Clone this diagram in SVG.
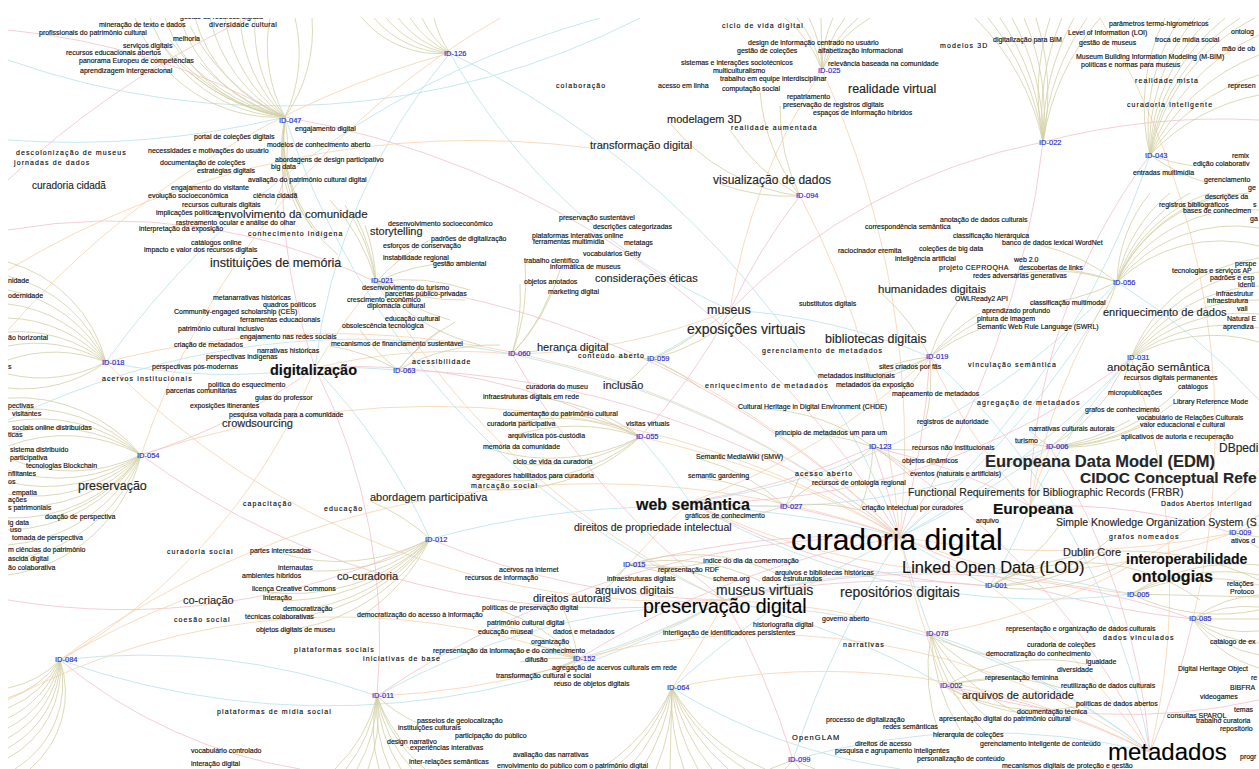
<svg xmlns="http://www.w3.org/2000/svg" width="1259" height="769" viewBox="0 0 1259 769">
<style>
.e{fill:none;stroke-width:.8}
.o{stroke:#d3d0a6}
.p{stroke:#f2c1cc}
.c{stroke:#b9e2ea}
.r{stroke:#f6d3ae}
text{font-family:"Liberation Sans",Arial,sans-serif;font-size:7px;fill:#111;stroke:#111;stroke-width:.15px}
.w{letter-spacing:1.1px}
.i{fill:#2a2ad0;stroke:#2a2ad0;font-size:7.5px}
.m{fill:#262626;stroke:#262626}
.b{font-weight:bold}
.z10{font-size:10px}.z105{font-size:10.5px}.z11{font-size:11px}.z115{font-size:11.5px}.z12{font-size:12px}.z125{font-size:12.5px}.z14{font-size:14px}.z145{font-size:14.5px}.z155{font-size:15.5px}.z16{font-size:16px}.z165{font-size:16.5px}.z195{font-size:19.5px}.z24{font-size:24px}.z30{font-size:30px}
</style>
<defs><clipPath id="cp"><rect x="8" y="18" width="1251" height="751"/></clipPath></defs>
<rect width="1259" height="769" fill="#fff"/>
<g id="connectors" clip-path="url(#cp)">
<path class="e p" d="M285 117A900 900 0 0 1 900 537M1043 142A900 900 0 0 1 900 537M376 282A900 900 0 0 1 900 537M398 370A900 900 0 0 1 900 537M930 357A900 900 0 0 1 900 537M873 447A900 900 0 0 1 900 537M785 506A900 900 0 0 1 900 537M628 565A900 900 0 0 1 900 537M1193 619A900 900 0 0 1 900 537M578 659A900 900 0 0 1 900 537M377 696A900 900 0 0 1 900 537"/>
<path class="e c" d="M450 53A900 900 0 0 1 900 537M1150 155A900 900 0 0 1 900 537M1117 282A900 900 0 0 1 900 537M512 354A900 900 0 0 1 900 537M1131 358A900 900 0 0 1 900 537M1050 447A900 900 0 0 1 900 537M430 539A900 900 0 0 1 900 537M990 586A900 900 0 0 1 900 537M931 634A900 900 0 0 1 900 537M672 688A900 900 0 0 1 900 537M793 760A900 900 0 0 1 900 537"/>
<path class="e r" d="M822 70A900 900 0 0 1 900 537M800 196A900 900 0 0 1 900 537M106 362A900 900 0 0 1 900 537M651 359A900 900 0 0 1 900 537M640 437A900 900 0 0 1 900 537M141 455A900 900 0 0 1 900 537M1233 533A900 900 0 0 1 900 537M1131 594A900 900 0 0 1 900 537M60 660A900 900 0 0 1 900 537M945 686A900 900 0 0 1 900 537"/>
<path class="e p" d="M141 455A800 800 0 0 0 725 600M430 539A800 800 0 0 0 725 600M793 760A800 800 0 0 0 725 600M990 586A800 800 0 0 0 725 600M512 354A800 800 0 0 0 725 600M1193 619A800 800 0 0 0 725 600"/>
<path class="e c" d="M60 660A800 800 0 0 0 725 600M578 659A800 800 0 0 0 725 600M945 686A800 800 0 0 0 725 600M1131 594A800 800 0 0 0 725 600M285 117A800 800 0 0 0 725 600"/>
<path class="e r" d="M377 696A800 800 0 0 0 725 600M672 688A800 800 0 0 0 725 600M931 634A800 800 0 0 0 725 600M106 362A800 800 0 0 0 725 600M376 282A800 800 0 0 0 725 600"/>
<path class="e p" d="M945 686A700 700 0 0 1 1150 752M1193 619A700 700 0 0 1 1150 752M873 447A700 700 0 0 1 1150 752M1050 447A700 700 0 0 1 1150 752"/>
<path class="e c" d="M931 634A700 700 0 0 1 1150 752M793 760A700 700 0 0 1 1150 752M930 357A700 700 0 0 1 1150 752M377 696A700 700 0 0 1 1150 752"/>
<path class="e r" d="M990 586A700 700 0 0 1 1150 752M672 688A700 700 0 0 1 1150 752M1131 358A700 700 0 0 1 1150 752M578 659A700 700 0 0 1 1150 752"/>
<path class="e c" d="M106 362A600 600 0 0 0 315 368M398 370A600 600 0 0 0 315 368M430 539A600 600 0 0 0 315 368M450 53A600 600 0 0 0 315 368"/>
<path class="e p" d="M141 455A600 600 0 0 0 315 368M285 117A600 600 0 0 0 315 368M377 696A600 600 0 0 0 315 368M640 437A600 600 0 0 0 315 368"/>
<path class="e r" d="M376 282A600 600 0 0 0 315 368M512 354A600 600 0 0 0 315 368M60 660A600 600 0 0 0 315 368"/>
<path class="e r" d="M785 506A700 700 0 0 1 690 502M930 357A700 700 0 0 1 690 502M1233 533A700 700 0 0 1 690 502M628 565A700 700 0 0 1 690 502"/>
<path class="e c" d="M1050 447A700 700 0 0 1 690 502M1117 282A700 700 0 0 1 690 502M1131 594A700 700 0 0 1 690 502M640 437A700 700 0 0 1 690 502"/>
<path class="e p" d="M873 447A700 700 0 0 1 690 502M1131 358A700 700 0 0 1 690 502M990 586A700 700 0 0 1 690 502"/>
<path class="e p" d="M800 196A600 600 0 0 0 730 310M640 437A600 600 0 0 0 730 310M1043 142A600 600 0 0 0 730 310M873 447A600 600 0 0 1 1030 506M1150 155A600 600 0 0 0 1030 506M1233 533A600 600 0 0 0 1030 506"/>
<path class="e c" d="M651 359A600 600 0 0 0 730 310M930 357A600 600 0 0 0 730 310M450 53A600 600 0 0 0 730 310M990 586A600 600 0 0 0 1030 506M1131 358A600 600 0 0 0 1030 506"/>
<path class="e r" d="M512 354A600 600 0 0 0 730 310M822 70A600 600 0 0 0 730 310M1050 447A600 600 0 0 0 1030 506M930 357A600 600 0 0 0 1030 506M1117 282A600 600 0 0 0 1030 506"/>
<path class="e p" d="M8 30A700 700 0 0 1 285 117M8 230A600 600 0 0 1 376 282M8 600A700 700 0 0 0 430 539M1259 120A700 700 0 0 0 1043 142M1259 700A600 600 0 0 1 945 686M300 769A500 500 0 0 1 60 660M8 180A900 900 0 0 1 1000 18"/>
<path class="e c" d="M8 140A900 900 0 0 0 285 117M8 420A800 800 0 0 1 512 354M600 18A900 900 0 0 0 106 362M1259 400A700 700 0 0 0 1117 282M900 769A600 600 0 0 1 672 688M60 660A700 700 0 0 1 377 696M8 60A800 800 0 0 0 640 18"/>
<path class="e r" d="M8 330A900 900 0 0 1 450 53M1259 470A600 600 0 0 1 931 634M500 18A800 800 0 0 0 141 455M8 700A700 700 0 0 1 578 659M1100 18A800 800 0 0 1 1193 619M60 660A800 800 0 0 1 183 600M8 270A900 900 0 0 1 590 148"/>
<path class="e o" d="M285 117A150 150 0 0 1 135 18M285 117A150 150 0 0 1 150 18M285 117A150 150 0 0 1 165 18M285 117A150 150 0 0 1 180 18M285 117A150 150 0 0 1 195 18M285 117A150 150 0 0 1 210 18M285 117A150 150 0 0 1 225 18M285 117A150 150 0 0 1 240 18M285 117A150 150 0 0 1 255 18M285 117A150 150 0 0 1 270 18M285 117A150 150 0 0 0 295 18M285 117A150 150 0 0 0 312 18M285 117A200 200 0 0 1 190 26M285 117A200 200 0 0 1 170 40M285 117A200 200 0 0 1 165 48M285 117A200 200 0 0 1 175 55M285 117A200 200 0 0 1 200 63M285 117A200 200 0 0 1 190 73M285 117A150 150 0 0 0 290 200M285 117A150 150 0 0 0 300 215M285 117A150 150 0 0 0 312 228M285 117A150 150 0 0 0 325 240M285 117A150 150 0 0 0 338 255M285 117A150 150 0 0 1 275 205"/>
<path class="e o" d="M450 53A100 100 0 0 1 362 18M450 53A100 100 0 0 1 374 18M450 53A100 100 0 0 1 386 18M450 53A100 100 0 0 1 398 18M450 53A100 100 0 0 1 410 18M450 53A100 100 0 0 1 422 18M450 53A100 100 0 0 1 434 18"/>
<path class="e o" d="M822 70A120 120 0 0 0 785 18M822 70A120 120 0 0 0 797 18M822 70A120 120 0 0 0 809 18M822 70L821 18M822 70A120 120 0 0 1 833 18M822 70A120 120 0 0 1 845 18M822 70A120 120 0 0 1 858 18M822 70A120 120 0 0 1 870 18"/>
<path class="e o" d="M1043 142A250 250 0 0 0 975 18M1043 142A250 250 0 0 0 988 18M1043 142A250 250 0 0 0 1000 18M1043 142A250 250 0 0 0 1012 18M1043 142A250 250 0 0 0 1024 18M1043 142A250 250 0 0 0 1036 18M1043 142A250 250 0 0 1 1050 18M1043 142A250 250 0 0 1 1062 18M1043 142A250 250 0 0 1 1074 18M1043 142A250 250 0 0 1 1087 18M1043 142A250 250 0 0 1 1100 18"/>
<path class="e o" d="M1150 155A200 200 0 0 1 1165 18M1150 155A200 200 0 0 1 1180 18M1150 155A200 200 0 0 1 1195 18M1150 155A200 200 0 0 1 1210 18M1150 155A200 200 0 0 1 1225 18M1150 155A200 200 0 0 1 1240 18M1150 155A200 200 0 0 1 1255 18M1150 155A200 200 0 0 1 1259 35M1150 155A200 200 0 0 1 1259 55M1150 155A200 200 0 0 1 1259 75M1150 155A200 200 0 0 1 1259 95M1150 155A200 200 0 0 0 1193 166M1150 155A200 200 0 0 0 1204 182"/>
<path class="e o" d="M1117 282A150 150 0 0 1 1150 193M1117 282A150 150 0 0 1 1170 193M1117 282A150 150 0 0 1 1190 193M1117 282A150 150 0 0 1 1210 193M1117 282A150 150 0 0 1 1230 193M1117 282A150 150 0 0 1 1250 193M1117 282A150 150 0 0 1 1259 210M1117 282A150 150 0 0 1 1259 228M1117 282A150 150 0 0 1 1259 246M1117 282A200 200 0 0 0 1020 270M1117 282A200 200 0 0 0 1000 278M1117 282A200 200 0 0 1 1030 304M1117 282A200 200 0 0 1 1103 316M1117 282A200 200 0 0 0 1040 245"/>
<path class="e o" d="M1131 358A160 160 0 0 1 1259 258M1131 358A160 160 0 0 1 1259 272M1131 358A160 160 0 0 1 1259 286M1131 358A160 160 0 0 1 1259 300M1131 358A160 160 0 0 1 1259 314M1131 358A160 160 0 0 1 1259 328M1131 358A160 160 0 0 1 1259 342M1131 358A160 160 0 0 0 1124 380M1131 358A160 160 0 0 0 1108 395"/>
<path class="e o" d="M106 362A140 140 0 0 0 8 262M106 362A140 140 0 0 0 8 276M106 362A140 140 0 0 0 8 290M106 362A140 140 0 0 0 8 304M106 362A140 140 0 0 0 8 318M106 362A140 140 0 0 0 8 332M106 362A140 140 0 0 0 8 346M106 362A140 140 0 0 0 8 360M106 362A140 140 0 0 1 8 374M106 362A140 140 0 0 1 8 388"/>
<path class="e o" d="M141 455A160 160 0 0 0 8 398M141 455A160 160 0 0 0 8 410M141 455A160 160 0 0 0 8 422M141 455A160 160 0 0 0 8 434M141 455A160 160 0 0 0 8 446M141 455A160 160 0 0 1 8 458M141 455A160 160 0 0 1 8 470M141 455A160 160 0 0 1 8 482M141 455A160 160 0 0 1 8 494M141 455A160 160 0 0 1 8 506M141 455A160 160 0 0 1 8 518M141 455A160 160 0 0 1 8 530M141 455A160 160 0 0 1 8 545M141 455A160 160 0 0 1 8 560M141 455A160 160 0 0 1 8 575M141 455A160 160 0 0 1 45 519"/>
<path class="e o" d="M60 660A100 100 0 0 1 8 688M60 660A100 100 0 0 1 8 698M60 660A100 100 0 0 1 8 708M60 660A100 100 0 0 1 8 718M60 660A100 100 0 0 1 8 728M60 660A100 100 0 0 1 8 738M60 660A100 100 0 0 1 8 748M60 660A100 100 0 0 1 8 758M60 660A100 100 0 0 1 15 769M60 660A100 100 0 0 1 30 769"/>
<path class="e o" d="M377 696A150 150 0 0 1 335 769M377 696A150 150 0 0 1 346 769M377 696A150 150 0 0 1 357 769M377 696A150 150 0 0 1 368 769M377 696A150 150 0 0 0 379 769M377 696A150 150 0 0 0 390 769M377 696A150 150 0 0 0 401 769M377 696A150 150 0 0 0 412 769M377 696A150 150 0 0 0 425 769M377 696A150 150 0 0 0 417 723M377 696A150 150 0 0 0 410 750"/>
<path class="e o" d="M672 688A200 200 0 0 1 600 769M672 688A200 200 0 0 1 614 769M672 688A200 200 0 0 1 628 769M672 688A200 200 0 0 1 642 769M672 688A200 200 0 0 1 656 769M672 688L670 769M672 688A200 200 0 0 0 684 769M672 688A200 200 0 0 0 698 769M672 688A200 200 0 0 0 712 769M672 688A200 200 0 0 0 728 769M672 688A200 200 0 0 0 745 769M672 688A200 200 0 0 0 765 769M793 760L770 769M793 760L785 769M793 760L800 769M793 760L815 769"/>
<path class="e o" d="M1193 619A120 120 0 0 1 1259 595M1193 619A120 120 0 0 1 1259 607M1193 619L1259 619M1193 619A120 120 0 0 0 1259 631M1193 619A120 120 0 0 0 1259 643M1193 619A120 120 0 0 0 1259 655M1193 619A120 120 0 0 0 1259 668M1131 594A200 200 0 0 1 1259 565M1131 594A200 200 0 0 1 1259 575M1131 594A200 200 0 0 1 1259 585M1131 594L1259 597M1131 594A200 200 0 0 0 1259 610M1233 533L1259 515M1233 533L1259 525M1233 533L1259 537M1233 533L1259 548"/>
<path class="e o" d="M376 282A200 200 0 0 0 330 200M376 282A200 200 0 0 0 345 205M376 282A200 200 0 0 0 355 215M376 282A200 200 0 0 0 365 225M376 282A200 200 0 0 1 430 240M376 282A200 200 0 0 1 460 262M376 282A200 200 0 0 1 470 290M376 282A200 200 0 0 0 465 300M376 282A200 200 0 0 0 450 320M376 282A200 200 0 0 0 480 345M398 370A200 200 0 0 1 440 330M398 370A200 200 0 0 1 455 322M398 370A200 200 0 0 1 500 345M398 370A200 200 0 0 0 330 346M398 370A200 200 0 0 1 360 330"/>
<path class="e o" d="M640 437A200 200 0 0 0 500 426M640 437A200 200 0 0 0 510 437M640 437A200 200 0 0 1 490 449M640 437A200 200 0 0 1 520 464M640 437A200 200 0 0 1 480 478M640 437A200 200 0 0 1 475 488M640 437A200 200 0 0 0 505 416M640 437A200 200 0 0 0 490 399M640 437A200 200 0 0 0 626 426"/>
<path class="e o" d="M930 357A200 200 0 0 0 880 369M930 357A200 200 0 0 1 835 378M930 357A200 200 0 0 1 840 387M930 357A200 200 0 0 1 900 396M930 357A200 200 0 0 1 925 424M930 357A200 200 0 0 0 880 292M930 357A200 200 0 0 1 960 298M930 357A200 200 0 0 1 980 313M930 357A200 200 0 0 1 980 321M930 357A200 200 0 0 1 980 329"/>
<path class="e o" d="M1050 447A200 200 0 0 0 1015 443M1050 447A200 200 0 0 1 1030 431M1050 447A200 200 0 0 0 1130 420M1050 447A200 200 0 0 0 1140 427M1050 447A200 200 0 0 0 1120 439M1050 447A200 200 0 0 0 1085 412M1050 447A200 200 0 0 0 1108 395M1050 447A200 200 0 0 0 1180 389M1050 447A200 200 0 0 0 1173 404"/>
<path class="e o" d="M931 634A200 200 0 0 0 990 656M931 634A200 200 0 0 0 1000 680M931 634A200 200 0 0 0 1020 714M931 634A200 200 0 0 0 990 720M931 634A200 200 0 0 0 960 730M931 634A200 200 0 0 0 1000 746M931 634A200 200 0 0 0 940 737M945 686A200 200 0 0 0 960 699M945 686A200 200 0 0 0 1030 714M945 686A200 200 0 0 0 1080 706M945 686A200 200 0 0 1 1061 688M945 686A200 200 0 0 1 985 680M945 686A200 200 0 0 1 1086 664"/>
<path class="e o" d="M990 586A200 200 0 0 0 1100 555M990 586A200 200 0 0 0 1130 560M990 586A200 200 0 0 0 1110 539M990 586A200 200 0 0 0 1060 525M990 586A200 200 0 0 1 1200 600M990 586A300 300 0 0 1 1259 580"/>
<path class="e o" d="M578 659A200 200 0 0 0 520 662M578 659A200 200 0 0 1 500 678M578 659A200 200 0 0 1 556 670M578 659A200 200 0 0 1 555 686M578 659A200 200 0 0 0 490 653M578 659A200 200 0 0 0 530 644M578 659A200 200 0 0 0 560 634M578 659A200 200 0 0 0 500 625M578 659A200 200 0 0 0 500 610M578 659A200 200 0 0 0 560 602M628 565A200 200 0 0 1 610 581M628 565A200 200 0 0 1 600 594M628 565A200 200 0 0 1 660 572M628 565A200 200 0 0 0 705 563M628 565A200 200 0 0 1 720 582M628 565A200 200 0 0 1 760 581M628 565A200 200 0 0 1 780 575"/>
<path class="e o" d="M430 539A200 200 0 0 0 370 501M430 539A200 200 0 0 1 340 580M430 539A200 200 0 0 1 300 570M430 539A200 200 0 0 1 280 553M430 539A200 200 0 0 1 260 591M430 539A200 200 0 0 1 270 600M430 539A200 200 0 0 1 290 611M430 539A200 200 0 0 1 260 619M430 539A200 200 0 0 1 270 632M430 539A200 200 0 0 1 360 617"/>
<path class="e o" d="M512 354A200 200 0 0 1 537 351M512 354A200 200 0 0 0 520 284M512 354A200 200 0 0 0 550 294M512 354A200 200 0 0 0 525 263M512 354A200 200 0 0 0 560 270M651 359A200 200 0 0 0 600 358M651 359A200 200 0 0 1 620 389M651 359A200 200 0 0 1 700 388M651 359A200 200 0 0 0 700 331M651 359A200 200 0 0 0 740 312M800 196A200 200 0 0 1 720 184M800 196A200 200 0 0 1 730 130M800 196A200 200 0 0 1 670 123M800 196A200 200 0 0 1 780 106M800 196A200 200 0 0 1 760 91"/>
<path class="e o" d="M873 447A200 200 0 0 0 912 450M873 447A200 200 0 0 1 902 463M873 447A200 200 0 0 1 910 476M873 447A200 200 0 0 1 860 510M873 447A200 200 0 0 1 812 485M873 447A200 200 0 0 0 780 435M873 447A200 200 0 0 0 760 409M785 506A200 200 0 0 1 700 518M785 506A200 200 0 0 0 700 478M785 506A200 200 0 0 0 700 459M785 506A200 200 0 0 0 800 476M785 506A200 200 0 0 1 812 485M785 506A200 200 0 0 1 860 510"/>
</g>
<g id="nodes" clip-path="url(#cp)">
<g id="k1"><text x="180" y="19">gestão de recursos digitais</text></g>
<g id="k2"><text x="99" y="26.5">mineração de texto e dados</text></g>
<g id="k3"><text x="209" y="26.5" style="letter-spacing:.4px">diversidade cultural</text></g>
<g id="k4"><text x="39" y="35">profissionais do patrimônio cultural</text></g>
<g id="k5"><text x="173" y="40.5">melhoria</text></g>
<g id="k6"><text x="123" y="48">serviços digitais</text></g>
<g id="k7"><text x="66" y="55">recursos educacionais abertos</text></g>
<g id="k8"><text x="79" y="63">panorama Europeu de competências</text></g>
<g id="k9"><text x="80" y="73">aprendizagem intergeracional</text></g>
<g id="id047"><text class="i" x="279" y="122.5">ID-047</text></g>
<g id="k11"><text x="295" y="130.5">engajamento digital</text></g>
<g id="k12"><text x="194" y="139">portal de coleções digitais</text></g>
<g id="k13"><text x="267" y="146.5">modelos de conhecimento aberto</text></g>
<g id="k14"><text class="w" x="16" y="155">descolonização de museus</text></g>
<g id="k15"><text x="148" y="153">necessidades e motivações do usuário</text></g>
<g id="k16"><text x="275" y="162">abordagens de design participativo</text></g>
<g id="k17"><text class="w" x="14" y="165">jornadas de dados</text></g>
<g id="k18"><text x="160" y="165">documentação de coleções</text></g>
<g id="k19"><text x="271" y="169">big data</text></g>
<g id="k20"><text x="197" y="173">estratégias digitais</text></g>
<g id="k21"><text x="248" y="182">avaliação do patrimônio cultural digital</text></g>
<g id="k22"><text class="z10 m" x="32" y="189">curadoria cidadã</text></g>
<g id="k23"><text x="171" y="190">engajamento do visitante</text></g>
<g id="k24"><text x="148" y="198">evolução socioeconômica</text></g>
<g id="k25"><text x="253" y="198">ciência cidadã</text></g>
<g id="k26"><text x="182" y="207">recursos culturais digitais</text></g>
<g id="k27"><text x="156" y="215">implicações políticas</text></g>
<g id="k28"><text class="z115 m" x="218" y="217.5">envolvimento da comunidade</text></g>
<g id="k29"><text x="176" y="224.5">rastreamento ocular e análise do olhar</text></g>
<g id="k30"><text x="388" y="226">desenvolvimento socioeconômico</text></g>
<g id="k31"><text x="139" y="230.5">interpretação da exposição</text></g>
<g id="k32"><text class="w" x="248" y="235.5">conhecimento indígena</text></g>
<g id="k33"><text class="z11 m" x="370" y="235">storytelling</text></g>
<g id="k34"><text x="431" y="241">padrões de digitalização</text></g>
<g id="k35"><text x="191" y="244.5">catálogos online</text></g>
<g id="k36"><text x="383" y="248">esforços de conservação</text></g>
<g id="k37"><text x="144" y="251.5">impacto e valor dos recursos digitais</text></g>
<g id="k38"><text x="383" y="260">instabilidade regional</text></g>
<g id="k39"><text class="z125 m" x="210" y="267">instituições de memória</text></g>
<g id="k40"><text x="433" y="266">gestão ambiental</text></g>
<g id="k41"><text x="8" y="283">nidade</text></g>
<g id="id021"><text class="i" x="371" y="283">ID-021</text></g>
<g id="k43"><text x="362" y="290">desenvolvimento do turismo</text></g>
<g id="k44"><text x="385" y="296">parcerias público-privadas</text></g>
<g id="k45"><text x="8" y="298">odernidade</text></g>
<g id="k46"><text x="213" y="300">metanarrativas históricas</text></g>
<g id="k47"><text x="347" y="302">crescimento econômico</text></g>
<g id="k48"><text x="263" y="307">quadros políticos</text></g>
<g id="k49"><text x="367" y="308">diplomacia cultural</text></g>
<g id="k50"><text x="174" y="314">Community-engaged scholarship (CES)</text></g>
<g id="k51"><text x="240" y="321.5">ferramentas educacionais</text></g>
<g id="k52"><text x="385" y="321">educação cultural</text></g>
<g id="k53"><text x="342" y="328">obsolescência tecnológica</text></g>
<g id="k54"><text x="178" y="330.5">patrimônio cultural inclusivo</text></g>
<g id="k55"><text x="8" y="340">ão horizontal</text></g>
<g id="k56"><text x="240" y="338.5">engajamento nas redes sociais</text></g>
<g id="k57"><text x="174" y="346.5">criação de metadados</text></g>
<g id="k58"><text x="331" y="346">mecanismos de financiamento sustentável</text></g>
<g id="k59"><text x="257" y="353">narrativas históricas</text></g>
<g id="k60"><text x="206" y="359">perspectivas indígenas</text></g>
<g id="id018"><text class="i" x="102" y="364.5">ID-018</text></g>
<g id="k62"><text class="w" x="412" y="364">acessibilidade</text></g>
<g id="k63"><text x="8" y="369">s</text></g>
<g id="k64"><text x="152" y="368.5">perspectivas pós-modernas</text></g>
<g id="k65"><text class="z145 b" x="270" y="375">digitalização</text></g>
<g id="id063"><text class="i" x="393" y="373">ID-063</text></g>
<g id="k67"><text class="w" x="102" y="380.5">acervos institucionais</text></g>
<g id="k68"><text x="208" y="387">política do esquecimento</text></g>
<g id="k69"><text x="166" y="393">parcerias comunitárias</text></g>
<g id="k70"><text x="255" y="400">guias do professor</text></g>
<g id="k71"><text x="8" y="408">pectivas</text></g>
<g id="k72"><text x="190" y="408">exposições itinerantes</text></g>
<g id="k73"><text x="12" y="416">visitantes</text></g>
<g id="k74"><text x="229" y="417">pesquisa voltada para a comunidade</text></g>
<g id="k75"><text class="z11 m" x="222" y="427">crowdsourcing</text></g>
<g id="k76"><text x="12" y="430">sociais online distribuídas</text></g>
<g id="k77"><text x="8" y="437">ticas</text></g>
<g id="k78"><text x="10" y="452">sistema distribuído</text></g>
<g id="k79"><text x="10" y="459.5">participativa</text></g>
<g id="id054"><text class="i" x="137" y="457.5">ID-054</text></g>
<g id="k81"><text x="26" y="468">tecnologias Blockchain</text></g>
<g id="k82"><text x="8" y="476">nflitantes</text></g>
<g id="k83"><text x="8" y="484">os</text></g>
<g id="k84"><text class="z125 m" x="78" y="490">preservação</text></g>
<g id="k85"><text x="12" y="495">empatia</text></g>
<g id="k86"><text x="8" y="502">ações</text></g>
<g id="k87"><text x="8" y="510">s patrimoniais</text></g>
<g id="k88"><text x="45" y="519">doação de perspectiva</text></g>
<g id="k89"><text class="w" x="243" y="506">capacitação</text></g>
<g id="k90"><text class="w" x="324" y="511">educação</text></g>
<g id="k91"><text class="z11 m" x="370" y="501">abordagem participativa</text></g>
<g id="k92"><text x="8" y="525">ig data</text></g>
<g id="k93"><text x="10" y="532">uso</text></g>
<g id="k94"><text x="12" y="540">tomada de perspectiva</text></g>
<g id="k95"><text x="8" y="552">m ciências do patrimônio</text></g>
<g id="k96"><text x="8" y="561">ascida digital</text></g>
<g id="k97"><text x="8" y="570">ão colaborativa</text></g>
<g id="k98"><text class="w" x="167" y="554">curadoria social</text></g>
<g id="k99"><text x="250" y="553">partes interessadas</text></g>
<g id="k100"><text x="278" y="570">internautas</text></g>
<g id="k101"><text x="242" y="578">ambientes híbridos</text></g>
<g id="k102"><text class="z11 m" x="337" y="580">co-curadoria</text></g>
<g id="k103"><text x="252" y="591">licença Creative Commons</text></g>
<g id="k104"><text x="263" y="600">interação</text></g>
<g id="k105"><text class="z11 m" x="183" y="604">co-criação</text></g>
<g id="k106"><text x="283" y="611">democratização</text></g>
<g id="k107"><text x="245" y="619">técnicas colaborativas</text></g>
<g id="k108"><text class="w" x="174" y="622">coesão social</text></g>
<g id="k109"><text x="357" y="617">democratização do acesso à informação</text></g>
<g id="k110"><text x="256" y="632">objetos digitais de museu</text></g>
<g id="k111"><text class="w" x="294" y="652">plataformas sociais</text></g>
<g id="k112"><text class="w" x="363" y="661">iniciativas de base</text></g>
<g id="id084"><text class="i" x="55" y="662">ID-084</text></g>
<g id="id011"><text class="i" x="372" y="698">ID-011</text></g>
<g id="k115"><text class="w" x="217" y="714">plataformas de mídia social</text></g>
<g id="k116"><text x="191" y="753">vocabulário controlado</text></g>
<g id="k117"><text x="191" y="766">interação digital</text></g>
<g id="id126"><text class="i" x="444" y="56">ID-126</text></g>
<g id="k119"><text class="w" x="722" y="28">ciclo de vida digital</text></g>
<g id="k120"><text x="748" y="45">design de informação centrado no usuário</text></g>
<g id="k121"><text x="737" y="53">gestão de coleções</text></g>
<g id="k122"><text x="818" y="53">alfabetização informacional</text></g>
<g id="k123"><text x="681" y="65">sistemas e interações sociotécnicos</text></g>
<g id="k124"><text x="828" y="66">relevância baseada na comunidade</text></g>
<g id="k125"><text x="713" y="73">multiculturalismo</text></g>
<g id="id025"><text class="i" x="818" y="73">ID-025</text></g>
<g id="k127"><text x="720" y="81">trabalho em equipe interdisciplinar</text></g>
<g id="k128"><text class="w" x="556" y="88">colaboração</text></g>
<g id="k129"><text x="658" y="88">acesso em linha</text></g>
<g id="k130"><text x="722" y="91">computação social</text></g>
<g id="k131"><text class="z125 m" x="848" y="93">realidade virtual</text></g>
<g id="k132"><text x="787" y="99">repatriamento</text></g>
<g id="k133"><text x="783" y="107">preservação de registros digitais</text></g>
<g id="k134"><text x="813" y="115">espaços de informação híbridos</text></g>
<g id="k135"><text class="z11 m" x="667" y="123">modelagem 3D</text></g>
<g id="k136"><text class="w" x="731" y="130">realidade aumentada</text></g>
<g id="k137"><text class="z11 m" x="590" y="149">transformação digital</text></g>
<g id="k138"><text class="z12 m" x="713" y="184">visualização de dados</text></g>
<g id="id094"><text class="i" x="796" y="198">ID-094</text></g>
<g id="k140"><text x="1109" y="26">parâmetros termo-higrométricos</text></g>
<g id="k141"><text x="1231" y="34">ontolog</text></g>
<g id="k142"><text x="1068" y="35">Level of Information (LOI)</text></g>
<g id="k143"><text x="993" y="42">digitalização para BIM</text></g>
<g id="k144"><text x="1155" y="42">troca de mídia social</text></g>
<g id="k145"><text class="w" x="940" y="48">modelos 3D</text></g>
<g id="k146"><text x="1079" y="45">gestão de museus</text></g>
<g id="k147"><text x="1222" y="51">mão de ob</text></g>
<g id="k148"><text x="1076" y="59">Museum Building Information Modeling (M-BIM)</text></g>
<g id="k149"><text x="1081" y="67">políticas e normas para museus</text></g>
<g id="k150"><text class="w" x="1135" y="83">realidade mista</text></g>
<g id="k151"><text x="1228" y="88">represen</text></g>
<g id="k152"><text class="w" x="1127" y="107">curadoria inteligente</text></g>
<g id="id022"><text class="i" x="1039" y="145">ID-022</text></g>
<g id="id043"><text class="i" x="1145" y="158">ID-043</text></g>
<g id="k155"><text x="1232" y="158">remix</text></g>
<g id="k156"><text x="1193" y="166">edição colaborativ</text></g>
<g id="k157"><text x="1133" y="175">entradas multimídia</text></g>
<g id="k158"><text x="1204" y="182">gerenciamento</text></g>
<g id="k159"><text x="1248" y="190">ge</text></g>
<g id="k160"><text x="1205" y="199">descrições da</text></g>
<g id="k161"><text x="1159" y="207">registros bibliográficos</text></g>
<g id="k162"><text x="1253" y="207">s</text></g>
<g id="k163"><text x="1183" y="213">bases de conhecimen</text></g>
<g id="k164"><text x="1250" y="221">ga</text></g>
<g id="k165"><text x="559" y="220">preservação sustentável</text></g>
<g id="k166"><text x="593" y="229">descrições categorizadas</text></g>
<g id="k167"><text x="532" y="237.5">plataformas interativas online</text></g>
<g id="k168"><text x="533" y="244">ferramentas multimídia</text></g>
<g id="k169"><text x="624" y="245">metatags</text></g>
<g id="k170"><text x="583" y="256">vocabulários Getty</text></g>
<g id="k171"><text x="524" y="263">trabalho científico</text></g>
<g id="k172"><text x="550" y="269">informática de museus</text></g>
<g id="k173"><text class="z11 m" x="595" y="282">considerações éticas</text></g>
<g id="k174"><text x="524" y="284">objetos anotados</text></g>
<g id="k175"><text x="548" y="294">marketing digital</text></g>
<g id="k176"><text class="z125 m" x="707" y="314">museus</text></g>
<g id="k177"><text x="799" y="306">substitutos digitais</text></g>
<g id="k178"><text class="z14 m" x="687" y="334">exposições virtuais</text></g>
<g id="k179"><text class="z125 m" x="825" y="343">bibliotecas digitais</text></g>
<g id="k180"><text class="z11 m" x="537" y="351">herança digital</text></g>
<g id="k181"><text class="w" x="762" y="353">gerenciamento de metadados</text></g>
<g id="id060"><text class="i" x="508" y="356">ID-060</text></g>
<g id="k183"><text class="w" x="578" y="358">conteúdo aberto</text></g>
<g id="id059"><text class="i" x="647" y="361">ID-059</text></g>
<g id="k185"><text x="940" y="222">anotação de dados culturais</text></g>
<g id="k186"><text x="865" y="229">correspondência semântica</text></g>
<g id="k187"><text x="953" y="238">classificação hierárquica</text></g>
<g id="k188"><text x="1002" y="245">banco de dados lexical WordNet</text></g>
<g id="k189"><text x="919" y="251">coleções de big data</text></g>
<g id="k190"><text x="838" y="253">raciocinador eremita</text></g>
<g id="k191"><text x="895" y="261">inteligência artificial</text></g>
<g id="k192"><text x="1014" y="262">web 2.0</text></g>
<g id="k193"><text x="1235" y="266">perspe</text></g>
<g id="k194"><text x="939" y="270" style="letter-spacing:.4px">projeto CEPROQHA</text></g>
<g id="k195"><text x="1019" y="270">descobertas de links</text></g>
<g id="k196"><text x="1172" y="273">tecnologias e serviços AP</text></g>
<g id="k197"><text x="973" y="278">redes adversárias generativas</text></g>
<g id="k198"><text x="1210" y="280">padrões e esp</text></g>
<g id="id056"><text class="i" x="1113" y="285">ID-056</text></g>
<g id="k200"><text x="1238" y="287">identi</text></g>
<g id="k201"><text class="z115 m" x="878" y="293">humanidades digitais</text></g>
<g id="k202"><text x="1216" y="296">infraestrutur</text></g>
<g id="k203"><text x="955" y="300.5">OWLReady2 API</text></g>
<g id="k204"><text x="1207" y="303">infraestrutura</text></g>
<g id="k205"><text x="1030" y="305">classificação multimodal</text></g>
<g id="k206"><text x="1237" y="311">vali</text></g>
<g id="k207"><text x="982" y="313">aprendizado profundo</text></g>
<g id="k208"><text class="z11 m" x="1103" y="315.5">enriquecimento de dados</text></g>
<g id="k209"><text x="1227" y="321">Natural E</text></g>
<g id="k210"><text x="977" y="321">pintura de imagem</text></g>
<g id="k211"><text x="1223" y="328.5">aprendiza</text></g>
<g id="k212"><text x="977" y="329">Semantic Web Rule Language (SWRL)</text></g>
<g id="id019"><text class="i" x="926" y="359">ID-019</text></g>
<g id="id031"><text class="i" x="1127" y="360">ID-031</text></g>
<g id="k215"><text class="w" x="968" y="367">vinculação semântica</text></g>
<g id="k216"><text x="879" y="369">sites criados por fãs</text></g>
<g id="k217"><text class="z115 m" x="1107" y="371">anotação semântica</text></g>
<g id="k218"><text x="818" y="378">metadados institucionais</text></g>
<g id="k219"><text x="1124" y="380">recursos digitais permanentes</text></g>
<g id="k220"><text x="526" y="389">curadoria do museu</text></g>
<g id="k221"><text class="z11 m" x="603" y="389">inclusão</text></g>
<g id="k222"><text class="w" x="705" y="388">enriquecimento de metadados</text></g>
<g id="k223"><text x="836" y="387">metadados da exposição</text></g>
<g id="k224"><text x="1178" y="389">catálogos</text></g>
<g id="k225"><text x="892" y="396">mapeamento de metadados</text></g>
<g id="k226"><text x="1108" y="395">micropublicações</text></g>
<g id="k227"><text x="483" y="399">infraestruturas digitais em rede</text></g>
<g id="k228"><text class="w" x="977" y="405">agregação de metadados</text></g>
<g id="k229"><text x="1173" y="404">Library Reference Mode</text></g>
<g id="k230"><text x="738" y="409">Cultural Heritage in Digital Environment (CHDE)</text></g>
<g id="k231"><text x="1085" y="412">grafos de conhecimento</text></g>
<g id="k232"><text x="503" y="416">documentação do patrimônio cultural</text></g>
<g id="k233"><text x="1137" y="420">vocabulário de Relações Culturais</text></g>
<g id="k234"><text x="917" y="424">registros de autoridade</text></g>
<g id="k235"><text x="626" y="426">visitas virtuais</text></g>
<g id="k236"><text x="487" y="426">curadoria participativa</text></g>
<g id="k237"><text x="1140" y="427">valor educacional e cultural</text></g>
<g id="k238"><text x="1029" y="431">narrativas culturais autorais</text></g>
<g id="k239"><text x="775" y="435">princípio de metadados um para um</text></g>
<g id="k240"><text x="508" y="438">arquivística pós-custódia</text></g>
<g id="id055"><text class="i" x="636" y="439">ID-055</text></g>
<g id="k242"><text x="1121" y="439">aplicativos de autoria e recuperação</text></g>
<g id="k243"><text x="1015" y="443">turismo</text></g>
<g id="k244"><text x="483" y="449">memória da comunidade</text></g>
<g id="id123"><text class="i" x="869" y="449">ID-123</text></g>
<g id="k246"><text x="912" y="450">recursos não institucionais</text></g>
<g id="id006"><text class="i" x="1046" y="449">ID-006</text></g>
<g id="k248"><text class="z12 m" x="1219" y="452">DBpedi</text></g>
<g id="k249"><text x="696" y="459">Semantic MediaWiki (SMW)</text></g>
<g id="k250"><text x="902" y="463">objetos dinâmicos</text></g>
<g id="k251"><text x="513" y="464">ciclo de vida da curadoria</text></g>
<g id="k252"><text class="z165 b m" x="985" y="467">Europeana Data Model (EDM)</text></g>
<g id="k253"><text class="w" x="795" y="476">acesso aberto</text></g>
<g id="k254"><text x="910" y="476">eventos (naturais e artificiais)</text></g>
<g id="k255"><text x="688" y="478">semantic gardening</text></g>
<g id="k256"><text x="472" y="478">agregadores habilitados para curadoria</text></g>
<g id="k257"><text class="z155 b m" x="1080" y="483">CIDOC Conceptual Refe</text></g>
<g id="k258"><text x="812" y="485">recursos de ontologia regional</text></g>
<g id="k259"><text class="w" x="471" y="488">marcação social</text></g>
<g id="k260"><text class="z105 m" x="908" y="496">Functional Requirements for Bibliographic Records (FRBR)</text></g>
<g id="k261"><text class="z16 b" x="636" y="510">web semântica</text></g>
<g id="id027"><text class="i" x="780" y="509">ID-027</text></g>
<g id="k263"><text x="1161" y="506" style="letter-spacing:.6px">Dados Abertos Interligad</text></g>
<g id="k264"><text x="862" y="510">criação intelectual por curadores</text></g>
<g id="k265"><text class="z155 b" x="993" y="514">Europeana</text></g>
<g id="k266"><text x="685" y="518">gráficos de conhecimento</text></g>
<g id="k267"><text x="976" y="523">arquivo</text></g>
<g id="k268"><text class="z105 m" x="1056" y="526">Simple Knowledge Organization System (S</text></g>
<g id="k269"><text class="z105 m" x="574" y="531">direitos de propriedade intelectual</text></g>
<g id="id009"><text class="i" x="1229" y="535">ID-009</text></g>
<g id="id012"><text class="i" x="425" y="542">ID-012</text></g>
<g id="k272"><text class="w" x="1109" y="539">grafos nomeados</text></g>
<g id="k273"><text x="1231" y="543">ativos d</text></g>
<g id="k274"><text class="z30" x="791" y="550" style="fill:#000">curadoria digital</text></g>
<g id="k275"><text class="z11 m" x="1063" y="556">Dublin Core</text></g>
<g id="k276"><text x="703" y="563">índice do dia da comemoração</text></g>
<g id="k277"><text class="z14 b" x="1126" y="564">interoperabilidade</text></g>
<g id="id015"><text class="i" x="623" y="567">ID-015</text></g>
<g id="k279"><text x="499" y="572">acervos na internet</text></g>
<g id="k280"><text x="658" y="572">representação RDF</text></g>
<g id="k281"><text class="z165" x="902" y="573">Linked Open Data (LOD)</text></g>
<g id="k282"><text x="775" y="575">arquivos e bibliotecas históricas</text></g>
<g id="k283"><text x="465" y="580">recursos de informação</text></g>
<g id="k284"><text x="607" y="580.5">infraestruturas digitais</text></g>
<g id="k285"><text x="713" y="580.5">schema.org</text></g>
<g id="k286"><text x="762" y="580.5">dados estruturados</text></g>
<g id="k287"><text class="z16 b" x="1132" y="582">ontologias</text></g>
<g id="k288"><text x="1227" y="586">relações</text></g>
<g id="id001"><text class="i" x="985" y="588">ID-001</text></g>
<g id="k290"><text class="z11 m" x="595" y="594">arquivos digitais</text></g>
<g id="k291"><text class="z14 m" x="716" y="594.5">museus virtuais</text></g>
<g id="k292"><text class="z14 m" x="840" y="597">repositórios digitais</text></g>
<g id="k293"><text x="1230" y="594">Protoco</text></g>
<g id="id005"><text class="i" x="1127" y="597">ID-005</text></g>
<g id="k295"><text class="z11 m" x="533" y="602">direitos autorais</text></g>
<g id="k296"><text class="z195" x="643" y="613" style="fill:#000">preservação digital</text></g>
<g id="k297"><text x="482" y="610">políticas de preservação digital</text></g>
<g id="k298"><text x="822" y="621">governo aberto</text></g>
<g id="id085"><text class="i" x="1189" y="621">ID-085</text></g>
<g id="k300"><text x="487" y="625">patrimônio cultural digital</text></g>
<g id="k301"><text x="753" y="627">historiografia digital</text></g>
<g id="k302"><text x="1006" y="631">representação e organização de dados culturais</text></g>
<g id="k303"><text x="478" y="634">educação museal</text></g>
<g id="k304"><text x="553" y="634">dados e metadados</text></g>
<g id="k305"><text x="663" y="635">interligação de identificadores persistentes</text></g>
<g id="id078"><text class="i" x="926" y="636">ID-078</text></g>
<g id="k307"><text class="w" x="1103" y="640">dados vinculados</text></g>
<g id="k308"><text x="531" y="644">organização</text></g>
<g id="k309"><text x="1210" y="644">catálogo de ex</text></g>
<g id="k310"><text class="w" x="843" y="647">narrativas</text></g>
<g id="k311"><text x="1027" y="647">curadoria de coleções</text></g>
<g id="k312"><text x="433" y="653">representação da informação e do conhecimento</text></g>
<g id="k313"><text x="986" y="656">democratização do conhecimento</text></g>
<g id="k314"><text x="525" y="662">difusão</text></g>
<g id="id152"><text class="i" x="573" y="661">ID-152</text></g>
<g id="k316"><text x="1086" y="664">igualdade</text></g>
<g id="k317"><text x="552" y="670">agregação de acervos culturais em rede</text></g>
<g id="k318"><text x="1057" y="672">diversidade</text></g>
<g id="k319"><text x="1178" y="671">Digital Heritage Object</text></g>
<g id="k320"><text x="496" y="678">transformação cultural e social</text></g>
<g id="k321"><text x="1251" y="680">re</text></g>
<g id="k322"><text x="985" y="680">representação feminina</text></g>
<g id="k323"><text x="554" y="686">reuso de objetos digitais</text></g>
<g id="id002"><text class="i" x="940" y="688">ID-002</text></g>
<g id="k325"><text x="1061" y="688">reutilização de dados culturais</text></g>
<g id="id064"><text class="i" x="667" y="690">ID-064</text></g>
<g id="k327"><text x="1230" y="690">BIBFRA</text></g>
<g id="k328"><text class="z11 m" x="962" y="699">arquivos de autoridade</text></g>
<g id="k329"><text x="1200" y="699">videogames</text></g>
<g id="k330"><text x="1076" y="706">políticas de dados abertos</text></g>
<g id="k331"><text x="1234" y="712">temas</text></g>
<g id="k332"><text x="1017" y="714">documentação técnica</text></g>
<g id="k333"><text x="1167" y="718">consultas SPARQL</text></g>
<g id="k334"><text x="826" y="722">processo de digitalização</text></g>
<g id="k335"><text x="939" y="721">apresentação digital do patrimônio cultural</text></g>
<g id="k336"><text x="417" y="723">passeios de geolocalização</text></g>
<g id="k337"><text x="1196" y="723">trabalho curatoria</text></g>
<g id="k338"><text x="883" y="729">redes semânticas</text></g>
<g id="k339"><text x="398" y="730">instituições culturais</text></g>
<g id="k340"><text x="1220" y="731">repositório</text></g>
<g id="k341"><text x="933" y="737">hierarquia de coleções</text></g>
<g id="k342"><text x="455" y="738">participação do público</text></g>
<g id="k343"><text class="w" x="792" y="740" style="font-size:7.5px">OpenGLAM</text></g>
<g id="k344"><text x="387" y="744">design narrativo</text></g>
<g id="k345"><text x="980" y="746">gerenciamento inteligente de conteúdo</text></g>
<g id="k346"><text x="855" y="746">direitos de acesso</text></g>
<g id="k347"><text x="410" y="750">experiências interativas</text></g>
<g id="k348"><text x="835" y="753">pesquisa e agrupamento inteligentes</text></g>
<g id="k349"><text x="513" y="757">avaliação das narrativas</text></g>
<g id="k350"><text class="z24" x="1108" y="760" style="fill:#000">metadados</text></g>
<g id="k351"><text x="1240" y="759">progr</text></g>
<g id="k352"><text x="917" y="761">personalização de conteúdo</text></g>
<g id="id099"><text class="i" x="788" y="762">ID-099</text></g>
<g id="k354"><text x="409" y="764">inter-relações semânticas</text></g>
<g id="k355"><text x="497" y="768">envolvimento do público com o patrimônio digital</text></g>
<g id="k356"><text x="1002" y="768">mecanismos digitais de proteção e gestão</text></g>
</g>
</svg>
